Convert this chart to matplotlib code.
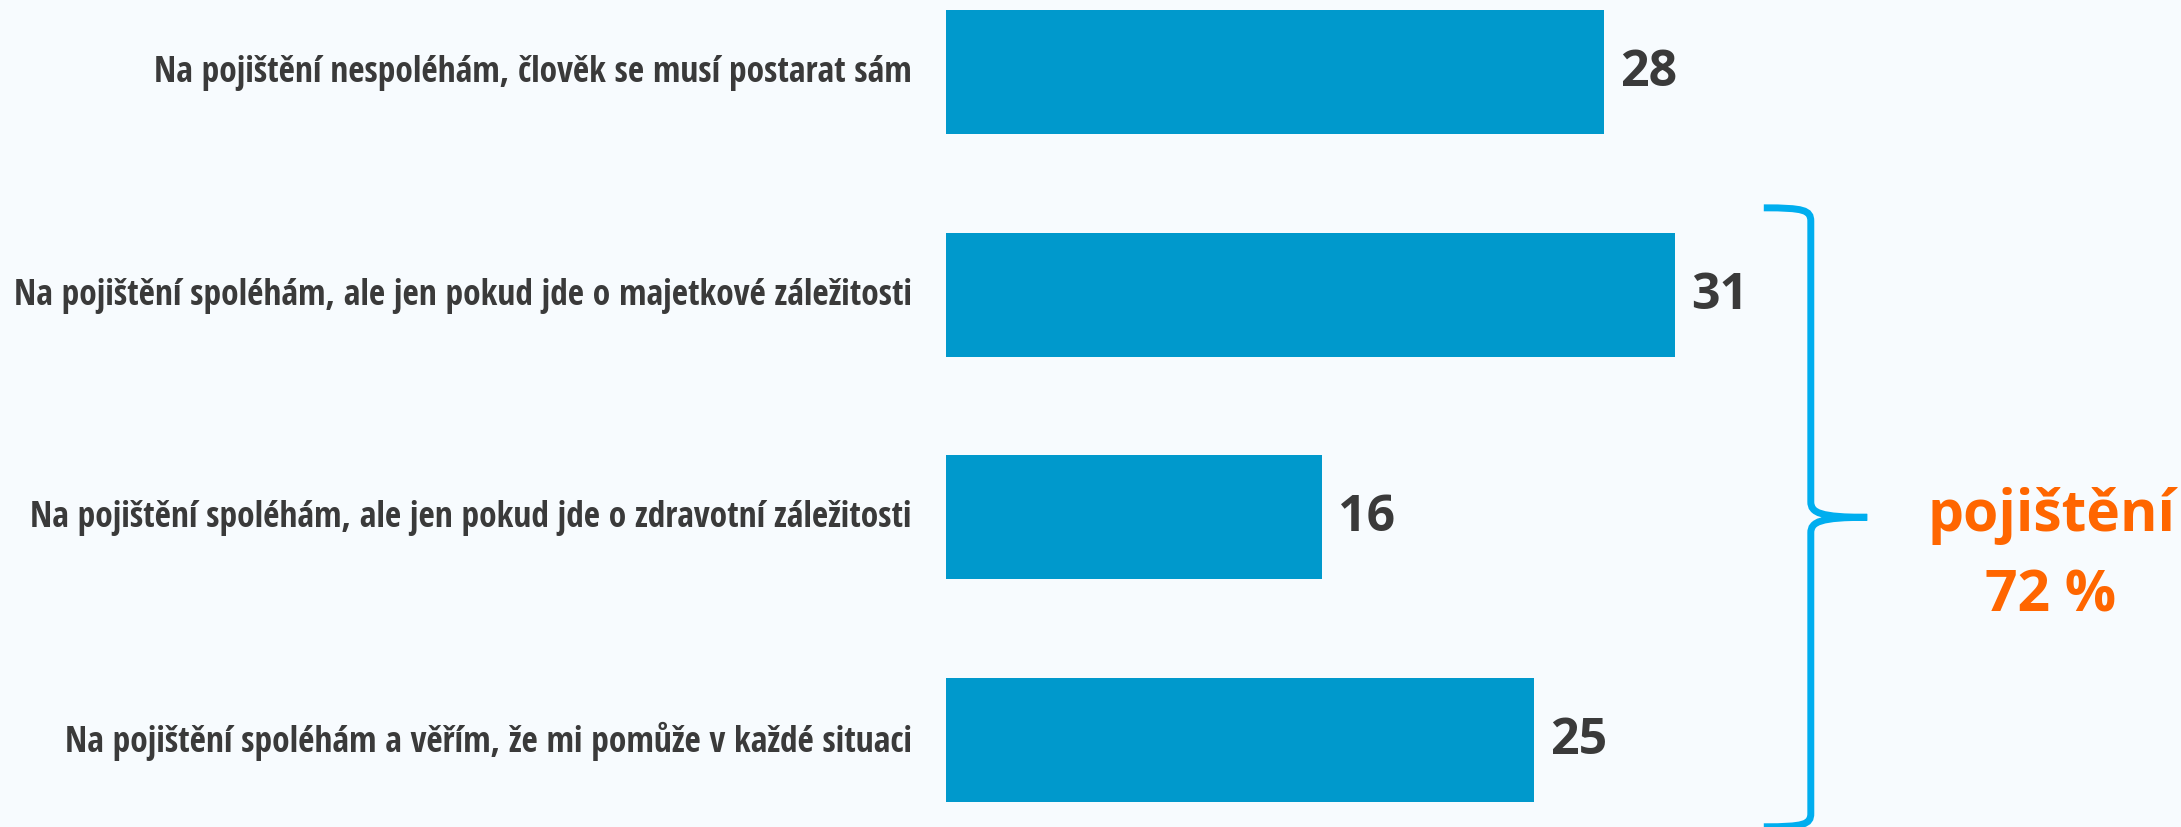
import matplotlib
matplotlib.use("Agg")
import matplotlib.pyplot as plt
from matplotlib.path import Path
from matplotlib.patches import PathPatch

# data
labels = [
    "Na pojištění nespoléhám, člověk se musí postarat sám",
    "Na pojištění spoléhám, ale jen pokud jde o majetkové záležitosti",
    "Na pojištění spoléhám, ale jen pokud jde o zdravotní záležitosti",
    "Na pojištění spoléhám a věřím, že mi pomůže v každé situaci",
]
values = [28, 31, 16, 25]
brace_title = "pojištění"
brace_value = "72 %"

bg = "#F7FBFE"
bar_col = "#0099CC"
txt_col = "#3A3A3A"
brace_col = "#00AEEF"
orange = "#FF6600"

fig = plt.figure(figsize=(21.81, 8.28), dpi=100, facecolor=bg)
ax = fig.add_axes([946 / 2181, 0, 1 - 946 / 2181, 1])
ax.set_facecolor(bg)

pos = list(range(len(values)))
ax.barh(pos, values, height=0.557, color=bar_col)
ax.set_xlim(0, (2181 - 946) / 23.5)
ax.set_ylim(3.391, -0.328)
ax.axis("off")

for p, v, lab in zip(pos, values, labels):
    ax.text(v + 0.7, p, str(v), va="center", ha="left", fontsize=36,
            fontweight="bold", color=txt_col, family=["Open Sans", "DejaVu Sans"])
    ax.text(-1.45, p, lab, va="center", ha="right", fontsize=25.5,
            fontweight="bold", color=txt_col,
            family=["Open Sans Condensed", "DejaVu Sans"])

# brace over the last three bars
y0, y1 = pos[1] - 0.39, pos[3] + 0.39
ym = (y0 + y1) / 2
xa, xb, xc = 34.8, 36.8, 39.2
verts = [
    (xa, y0), (xb - 0.3, y0), (xb, y0 + 0.01), (xb, y0 + 0.06),
    (xb, ym - 0.07),
    (xb, ym - 0.02), (xb + 0.4, ym), (xc, ym),
    (xb + 0.4, ym), (xb, ym + 0.02), (xb, ym + 0.07),
    (xb, y1 - 0.06),
    (xb, y1 - 0.01), (xb - 0.3, y1), (xa, y1),
]
codes = [Path.MOVETO, Path.CURVE4, Path.CURVE4, Path.CURVE4,
         Path.LINETO,
         Path.CURVE4, Path.CURVE4, Path.CURVE4,
         Path.CURVE4, Path.CURVE4, Path.CURVE4,
         Path.LINETO,
         Path.CURVE4, Path.CURVE4, Path.CURVE4]
ax.add_patch(PathPatch(Path(verts, codes), fill=False, lw=5,
                       edgecolor=brace_col, capstyle="butt", clip_on=False))

ax.text(2051 / 2181, 1 - 516 / 828, brace_title, transform=fig.transFigure,
        ha="center", va="center", fontsize=41, fontweight="bold",
        color=orange, family=["Open Sans", "DejaVu Sans"])
ax.text(2051 / 2181, 1 - 597 / 828, brace_value, transform=fig.transFigure,
        ha="center", va="center", fontsize=41, fontweight="bold",
        color=orange, family=["Open Sans", "DejaVu Sans"])

fig.savefig("out.png", dpi=100, facecolor=bg)
